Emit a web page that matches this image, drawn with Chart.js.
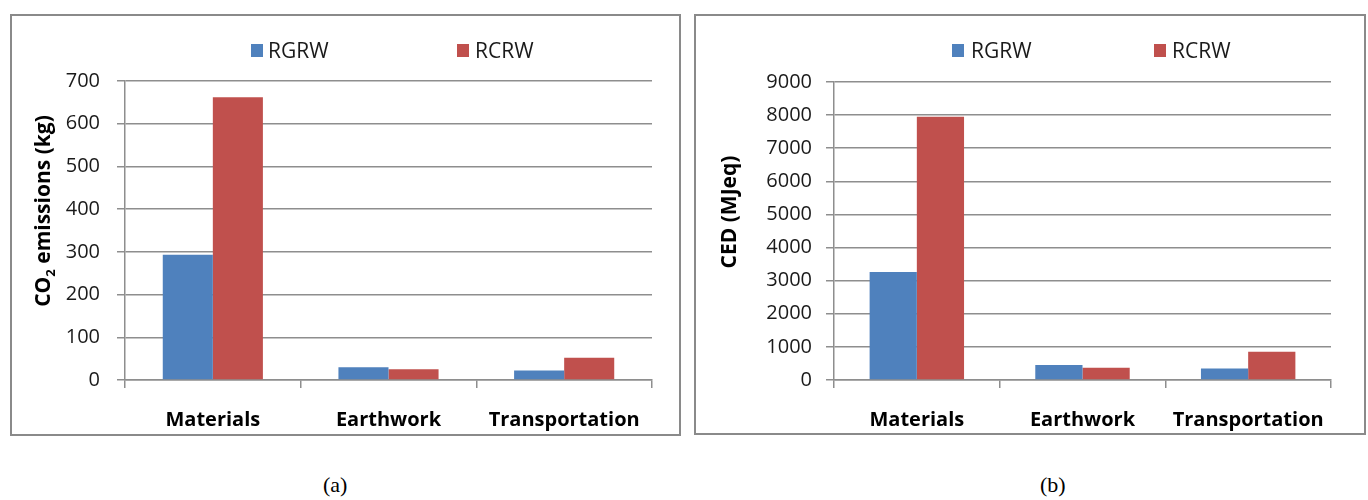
<!DOCTYPE html>
<html>
<head>
<meta charset="utf-8">
<script src="https://cdn.jsdelivr.net/npm/chart.js"></script>
<style>
  html, body { margin: 0; padding: 0; background: #fff; }
  body { width: 1368px; height: 500px; position: relative; overflow: hidden; font-family: "Open Sans", sans-serif; }
  .panel { position: absolute; box-sizing: border-box; border: 2px solid #8a8a8a; background: #fff; }
  .panel canvas { display: block; }
  .leg { position: absolute; font-size: 21px; color: #1a1a1a; line-height: 22px; }
  .box { position: absolute; width: 12px; height: 13px; }
  .ytitle { position: absolute; width: 300px; height: 26px; line-height: 26px; text-align: center;
            font-size: 21px; font-weight: bold; color: #000; transform: rotate(-90deg); white-space: nowrap; }
  .cap { position: absolute; font-family: "Liberation Serif", serif; font-size: 22px; color: #000; }
</style>
</head>
<body>
<div class="panel" id="pa" style="left:10px;top:14px;width:671px;height:422px;"><canvas id="co2"></canvas></div>
<div class="panel" id="pb" style="left:694px;top:14px;width:672px;height:421px;"><canvas id="ced"></canvas></div>

<div class="box" style="left:251px;top:44px;background:#4F81BD"></div>
<div class="leg" style="left:268px;top:39px">RGRW</div>
<div class="box" style="left:457px;top:44px;background:#C0504D"></div>
<div class="leg" style="left:475px;top:39px">RCRW</div>

<div class="box" style="left:952px;top:44px;background:#4F81BD"></div>
<div class="leg" style="left:971px;top:39px">RGRW</div>
<div class="box" style="left:1154px;top:44px;background:#C0504D"></div>
<div class="leg" style="left:1172px;top:39px">RCRW</div>

<div class="ytitle" style="left:-108px;top:198px">CO<sub style="font-size:13px;line-height:0">2</sub> emissions (kg)</div>
<div class="ytitle" style="left:578px;top:199px">CED (MJeq)</div>

<div class="cap" style="left:323px;top:472px">(a)</div>
<div class="cap" style="left:1040px;top:472px">(b)</div>

<script>
// values
const categories = ['Materials', 'Earthwork', 'Transportation'];
const seriesNames = ['RGRW', 'RCRW'];
const co2Rgrw = [293, 30, 22];
const co2Rcrw = [662, 25, 52];
const cedRgrw = [3260, 450, 350];
const cedRcrw = [7950, 370, 850];

const blue = '#4F81BD';
const red = '#C0504D';
const gridColor = '#8e8e8e';
const textColor = '#1a1a1a';

function makeChart(id, rgrw, rcrw, opts) {
  return new Chart(id, {
    type: 'bar',
    data: {
      labels: categories,
      datasets: [
        { label: seriesNames[0], data: rgrw, backgroundColor: blue },
        { label: seriesNames[1], data: rcrw, backgroundColor: red },
      ],
    },
    options: {
      responsive: true,
      maintainAspectRatio: false,
      animation: false,
      layout: { padding: { left: 0, right: opts.padRight, top: opts.padTop, bottom: 0 } },
      datasets: { bar: { barPercentage: 1, categoryPercentage: 0.57 } },
      plugins: { legend: { display: false }, tooltip: { enabled: false } },
      scales: {
        x: {
          offset: true,
          grid: { display: true, drawOnChartArea: false, tickLength: 8, color: gridColor, lineWidth: 1.5 },
          border: { display: true, color: gridColor, width: 1.5 },
          ticks: { padding: 20, color: '#000', font: { family: 'Open Sans', size: 20, weight: 'bold' } },
          afterFit: (s) => { s.height = opts.xHeight; },
        },
        y: {
          min: 0,
          max: opts.max,
          ticks: {
            stepSize: opts.step, padding: opts.tickPad, color: textColor,
            font: { family: 'Open Sans', size: 20 },
            callback: (v) => String(v),
          },
          grid: { color: gridColor, lineWidth: 1.5, tickLength: 8 },
          border: { display: true, color: gridColor, width: 1.5 },
          afterFit: (s) => { s.width = opts.yWidth; },
        },
      },
    },
  });
}

makeChart('co2', co2Rgrw, co2Rcrw, {
  max: 700, step: 100, yWidth: 113, padRight: 27, padTop: 65, xHeight: 54, tickPad: 17,
});

makeChart('ced', cedRgrw, cedRcrw, {
  max: 9000, step: 1000, yWidth: 138, padRight: 33, padTop: 66, xHeight: 53, tickPad: 14,
});
</script>
</body>
</html>
